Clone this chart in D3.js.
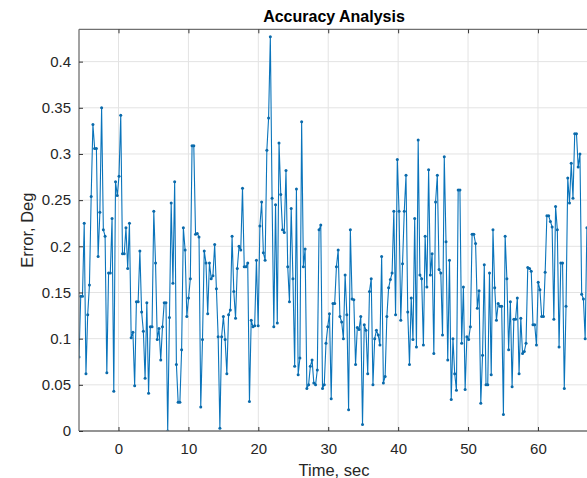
<!DOCTYPE html>
<html><head><meta charset="utf-8">
<script src="https://cdn.jsdelivr.net/npm/d3@7"></script>
<style>
html,body{margin:0;padding:0;background:#fff;}
svg{display:block;font-family:"Liberation Sans",Arial,Helvetica,sans-serif;}
</style></head>
<body>
<svg id="chart" width="587" height="478"></svg>
<script>
// ---- data ----
const title = "Accuracy Analysis";
const xLabel = "Time, sec";
const yLabel = "Error, Deg";
const startTime = -5.65;      // time of first sample, sec
const sampleStep = 0.2488;    // sampling interval, sec
const errorDeg = [
0.080,0.146,0.146,0.225,0.062,0.126,0.158,0.254,0.332,0.306,
0.306,0.189,0.237,0.350,0.218,0.211,0.063,0.171,0.171,0.230,
0.043,0.270,0.255,0.276,0.342,0.192,0.192,0.220,0.176,0.225,
0.101,0.107,0.049,0.140,0.140,0.195,0.129,0.108,0.057,0.139,
0.041,0.113,0.113,0.238,0.182,0.099,0.111,0.077,0.113,0.139,
0.139,0.000,0.123,0.247,0.160,0.270,0.072,0.031,0.031,0.088,
0.220,0.196,0.124,0.144,0.165,0.309,0.309,0.213,0.214,0.210,
0.026,0.099,0.195,0.182,0.127,0.182,0.165,0.168,0.202,0.154,
0.102,0.003,0.102,0.124,0.099,0.062,0.126,0.131,0.211,0.151,
0.122,0.176,0.200,0.196,0.263,0.178,0.178,0.182,0.032,0.120,
0.113,0.114,0.185,0.114,0.222,0.248,0.193,0.185,0.304,0.339,
0.427,0.252,0.113,0.245,0.117,0.312,0.256,0.218,0.215,0.282,
0.178,0.140,0.241,0.165,0.070,0.262,0.061,0.079,0.335,0.178,
0.197,0.046,0.050,0.070,0.077,0.052,0.050,0.066,0.218,0.223,
0.046,0.050,0.095,0.113,0.127,0.035,0.138,0.138,0.178,0.196,
0.124,0.118,0.100,0.169,0.126,0.023,0.218,0.143,0.142,0.072,
0.112,0.110,0.124,0.007,0.115,0.109,0.062,0.151,0.165,0.050,
0.100,0.109,0.104,0.093,0.189,0.052,0.059,0.124,0.155,0.164,
0.171,0.238,0.126,0.294,0.238,0.120,0.181,0.238,0.277,0.129,
0.072,0.144,0.099,0.230,0.091,0.315,0.169,0.165,0.093,0.211,
0.156,0.283,0.169,0.192,0.084,0.248,0.277,0.175,0.171,0.104,
0.297,0.205,0.077,0.185,0.034,0.100,0.062,0.044,0.261,0.261,
0.095,0.156,0.045,0.102,0.099,0.113,0.213,0.213,0.203,0.133,
0.152,0.030,0.082,0.180,0.050,0.050,0.171,0.061,0.218,0.155,
0.120,0.138,0.135,0.135,0.018,0.211,0.165,0.088,0.140,0.048,
0.121,0.121,0.144,0.062,0.122,0.084,0.086,0.095,0.177,0.176,
0.173,0.115,0.115,0.093,0.161,0.153,0.124,0.124,0.172,0.233,
0.233,0.227,0.221,0.121,0.243,0.218,0.091,0.182,0.182,0.046,
0.135,0.274,0.247,0.290,0.252,0.322,0.322,0.286,0.300,0.148,
0.143,0.100,0.220
];
const xTicks = [0,10,20,30,40,50,60];
const yTicks = [0,0.05,0.1,0.15,0.2,0.25,0.3,0.35,0.4];
const yTickLabels = ["0","0.05","0.1","0.15","0.2","0.25","0.3","0.35","0.4"];

// ---- layout ----
const L = 79, R = 589, T = 29.3, B = 431;
const svg = d3.select("#chart");
const x = d3.scaleLinear().domain([-5.65, 67.3]).range([L, R]);
const y = d3.scaleLinear().domain([0, 0.435]).range([B, T]);

const data = errorDeg.map((v,i)=>({t: startTime + i*sampleStep, v}));

svg.append("defs").append("clipPath").attr("id","clip")
  .append("rect").attr("x",L).attr("y",T).attr("width",R-L).attr("height",B-T);

// grid
const grid = svg.append("g");
grid.selectAll("line.gx").data(xTicks).join("line")
  .attr("x1",d=>x(d)).attr("x2",d=>x(d)).attr("y1",T).attr("y2",B)
  .attr("stroke","#e3e3e3").attr("stroke-width",1);
grid.selectAll("line.gy").data(yTicks.filter(d=>d>0)).join("line")
  .attr("x1",L).attr("x2",R).attr("y1",d=>y(d)).attr("y2",d=>y(d))
  .attr("stroke","#e3e3e3").attr("stroke-width",1);

// data line + markers
const plot = svg.append("g").attr("clip-path","url(#clip)");
plot.append("path").datum(data)
  .attr("fill","none").attr("stroke","#0a74bb").attr("stroke-width",1.1)
  .attr("stroke-linejoin","round")
  .attr("d", d3.line().x(d=>x(d.t)).y(d=>y(d.v)));
plot.selectAll("circle").data(data).join("circle")
  .attr("cx",d=>x(d.t)).attr("cy",d=>y(d.v)).attr("r",1.5)
  .attr("fill","#0a6aab");

// axes (ticks inward)
const axisColor = "#707070";
const xb = svg.append("g").attr("transform",`translate(0,${B})`)
  .call(d3.axisBottom(x).tickValues(xTicks).tickSize(-4).tickPadding(12).tickFormat(d3.format("d")));
const xt = svg.append("g").attr("transform",`translate(0,${T})`)
  .call(d3.axisTop(x).tickValues(xTicks).tickSize(-4).tickFormat(""));
const yl = svg.append("g").attr("transform",`translate(${L},0)`)
  .call(d3.axisLeft(y).tickValues(yTicks).tickSize(-4).tickPadding(8).tickFormat((d,i)=>yTickLabels[i]));
[xb,xt,yl].forEach(g=>{
  g.select(".domain").attr("stroke",axisColor).attr("stroke-width",1.3);
  g.selectAll(".tick line").attr("stroke","#333").attr("stroke-width",1);
  g.selectAll(".tick text").attr("fill","#262626").style("font-size","15px")
   .style("font-family","'Liberation Sans',Arial,sans-serif");
});
xb.select(".domain").attr("d",`M${L},0H${R}`);
xt.select(".domain").attr("d",`M${L},0H${R}`);
yl.select(".domain").attr("d",`M0,${B}V${T}`);

// labels
svg.append("text").attr("x",(L+R)/2).attr("y",22)
  .attr("text-anchor","middle").attr("font-weight","bold").attr("font-size","16px")
  .attr("fill","#000").text(title);
svg.append("text").attr("x",(L+R)/2).attr("y",476)
  .attr("text-anchor","middle").attr("font-size","16.5px").attr("fill","#262626").text(xLabel);
svg.append("text").attr("transform",`translate(33,${(T+B)/2}) rotate(-90)`)
  .attr("text-anchor","middle").attr("font-size","16.5px").attr("fill","#262626").text(yLabel);
</script>
</body></html>
